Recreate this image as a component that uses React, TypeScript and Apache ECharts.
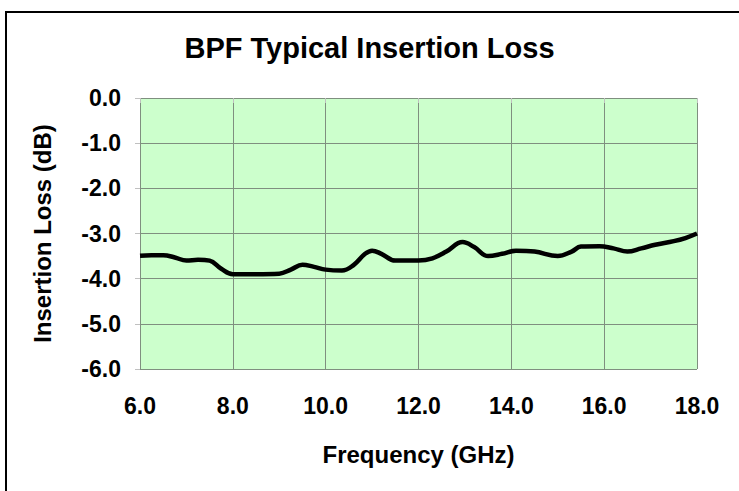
import React, { useEffect, useRef } from "react";
import * as echarts from "echarts";

const frequencies = [6.0, 6.25, 6.5, 6.75, 7.0, 7.25, 7.5, 7.75, 8.0, 8.5, 9.0, 9.25, 9.5, 9.75, 10.0, 10.35, 10.6, 10.85, 11.0, 11.2, 11.5, 12.0, 12.3, 12.6, 12.95, 13.2, 13.5, 13.8, 14.1, 14.5, 15.0, 15.3, 15.5, 15.9, 16.2, 16.5, 16.8, 17.1, 17.5, 17.75, 18.0];
const insertionLoss = [-3.49, -3.48, -3.48, -3.53, -3.6, -3.58, -3.6, -3.78, -3.9, -3.9, -3.89, -3.8, -3.69, -3.74, -3.8, -3.82, -3.7, -3.45, -3.38, -3.45, -3.6, -3.6, -3.55, -3.4, -3.19, -3.3, -3.5, -3.45, -3.38, -3.4, -3.5, -3.4, -3.29, -3.28, -3.33, -3.4, -3.33, -3.25, -3.17, -3.1, -3.0];

const title = "BPF Typical Insertion Loss";
const xTitle = "Frequency (GHz)";
const yTitle = "Insertion Loss (dB)";

export default function App() {
  const ref = useRef<HTMLDivElement>(null);
  useEffect(() => {
    if (!ref.current) return;
    const chart = echarts.init(ref.current, null, { renderer: "svg" });
    const font = "'Liberation Sans', Arial, sans-serif";
    chart.setOption({
      animation: false,
      backgroundColor: "#ffffff",
      title: {
        text: title,
        left: "center",
        top: 28,
        textStyle: { fontFamily: font, fontWeight: "bold", fontSize: 29, color: "#000" },
      },
      graphic: [
        {
          type: "rect",
          shape: { x: 6, y: 12, width: 760, height: 500 },
          style: { fill: "none", stroke: "#000", lineWidth: 2 },
          silent: true,
        },
      ],
      grid: {
        left: 140,
        right: 42,
        top: 98,
        bottom: 122,
        show: true,
        backgroundColor: "#CCFFCC",
        borderWidth: 0,
      },
      xAxis: {
        type: "value",
        min: 6,
        max: 18,
        interval: 2,
        name: xTitle,
        nameLocation: "middle",
        nameGap: 73,
        nameTextStyle: { fontFamily: font, fontWeight: "bold", fontSize: 24, color: "#000" },
        axisLine: { show: false },
        axisTick: { show: true, inside: false, length: 5, lineStyle: { color: "#c0c0c0" } },
        splitLine: { show: true, lineStyle: { color: "#7f8f7f", width: 1 } },
        axisLabel: {
          margin: 25,
          fontFamily: font,
          fontWeight: "bold",
          fontSize: 23,
          color: "#000",
          formatter: (v: number) => v.toFixed(1),
        },
      },
      yAxis: {
        type: "value",
        min: -6,
        max: 0,
        interval: 1,
        name: yTitle,
        nameLocation: "middle",
        nameGap: 86,
        nameTextStyle: { fontFamily: font, fontWeight: "bold", fontSize: 24, color: "#000" },
        axisLine: { show: false },
        axisTick: { show: true, inside: false, length: 5, lineStyle: { color: "#c0c0c0" } },
        splitLine: { show: true, lineStyle: { color: "#7f8f7f", width: 1 } },
        axisLabel: {
          margin: 19,
          fontFamily: font,
          fontWeight: "bold",
          fontSize: 23,
          color: "#000",
          formatter: (v: number) => v.toFixed(1),
        },
      },
      series: [
        {
          type: "line",
          data: frequencies.map((f, i) => [f, insertionLoss[i]]),
          smooth: 0.4,
          showSymbol: false,
          lineStyle: { color: "#000", width: 4.5 },
        },
      ],
    });
    return () => chart.dispose();
  }, []);
  return (
    <div
      ref={ref}
      style={{ position: "fixed", left: 0, top: 0, width: 739, height: 491, background: "#fff" }}
    />
  );
}
